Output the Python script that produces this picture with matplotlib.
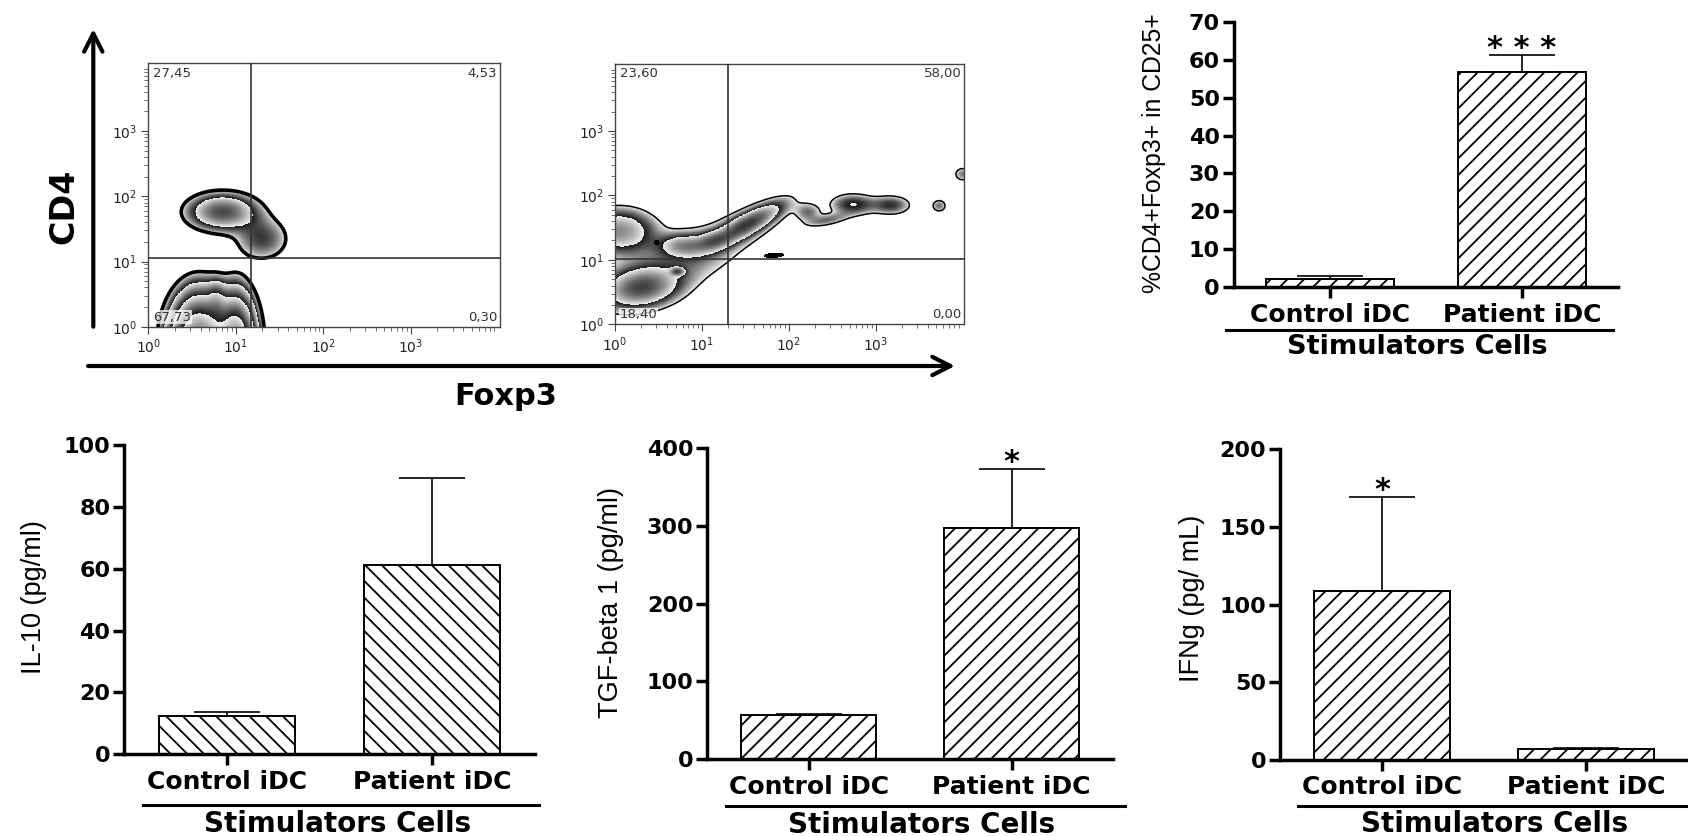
import numpy as np
import matplotlib
matplotlib.use("Agg")
import matplotlib.pyplot as plt
from matplotlib.lines import Line2D
from matplotlib.patches import FancyArrowPatch
from matplotlib.ticker import FixedLocator, LogLocator, NullFormatter

# ---------------- data ----------------
groups = ["Control iDC", "Patient iDC"]
group_title = "Stimulators Cells"

treg_mean = [2.1, 56.8]
treg_sem = [0.8, 4.3]
treg_sig = ["", "* * *"]

il10_mean = [12.5, 61.1]
il10_sem = [1.1, 28.1]
il10_sig = ["", ""]

tgf_mean = [57.0, 296.5]
tgf_sem = [1.5, 76.1]
tgf_sig = ["", "*"]

ifng_mean = [109.0, 7.1]
ifng_sem = [60.1, 0.8]
ifng_sig = ["*", ""]

# flow cytometry: quadrant percentages (UL, UR, LL, LR) and gates
flow1_quadrants = ["27,45", "4,53", "67,73", "0,30"]
flow1_gate = (14.9, 11.2)
flow2_quadrants = ["23,60", "58,00", "18,40", "0,00"]
flow2_gate = (20.0, 10.5)
decade_labels = [r"$10^{0}$", r"$10^{1}$", r"$10^{2}$", r"$10^{3}$"]
decade_ticks = [1, 10, 100, 1000]

# populations
# (log10 Foxp3, log10 CD4, spread x, spread y, angle, relative peak)
flow1_pops = [
    (0.85, 1.76, 0.24, 0.17, 0, 7.0),
    (1.30, 1.35, 0.20, 0.22, 0, 2.5),
    (0.58, -0.30, 0.17, 0.40, 0, 60.0),
    (1.00, -0.30, 0.12, 0.40, 0, 50.0),
    (0.78, 0.35, 0.07, 0.20, 0, 6.0),
]
flow1_dark = []
flow2_pops = [
    (1.52, 1.55, 0.32, 0.10, 38, 7.0),
    (0.80, 1.22, 0.18, 0.11, 0, 4.0),
    (0.30, 0.57, 0.26, 0.18, 15, 6.0),
    (0.05, 1.45, 0.26, 0.22, 0, 5.0),
    (1.12, 1.30, 0.13, 0.09, 20, 3.0),
    (0.75, 0.95, 0.80, 0.32, 35, 1.8),
    (0.72, 0.82, 0.05, 0.04, 0, 5.0),
    (2.74, 1.86, 0.17, 0.11, 0, 3.0),
    (2.22, 1.74, 0.10, 0.10, 0, 1.8),
    (2.45, 1.62, 0.17, 0.06, 15, 1.8),
    (3.18, 1.85, 0.15, 0.10, 0, 2.6),
    (3.73, 1.84, 0.06, 0.07, 0, 1.9),
    (4.00, 2.33, 0.07, 0.08, 0, 1.8),
]
flow2_dark = [
    (1.83, 1.07, 0.10, 0.03, 5, 1.8),
    (0.48, 1.27, 0.025, 0.03, 0, 1.8),
]

# ---------------- figure ----------------
W, H = 1688, 836
fig = plt.figure(figsize=(W / 100, H / 100), dpi=100)
plt.rcParams["hatch.linewidth"] = 1.3
plt.rcParams["hatch.color"] = "black"
plt.rcParams["mathtext.fontset"] = "dejavusans"

BOLD = "DejaVu Sans"
REG = ["Liberation Sans", "DejaVu Sans"]


def px_axes(left, top, right, bottom):
    return fig.add_axes([left / W, 1 - bottom / H, (right - left) / W, (bottom - top) / H])


def fig_line(x0, x1, y, lw=2.2):
    fig.add_artist(Line2D([x0 / W, x1 / W], [1 - y / H, 1 - y / H], color="black", lw=lw,
                          transform=fig.transFigure))


def fig_text(x, y, s, **kw):
    fig.text(x / W, 1 - y / H, s, ha="center", va="center", **kw)


# ---------------- flow panels ----------------
gx = np.linspace(-0.05, 4.1, 700)
gy = np.linspace(-0.05, 4.1, 700)


def density(pops):
    X, Y = np.meshgrid(gx, gy)
    Z = np.zeros_like(X)
    for cx, cy, sx, sy, ang, amp in pops:
        t = np.deg2rad(ang)
        dx, dy = X - cx, Y - cy
        u = dx * np.cos(t) + dy * np.sin(t)
        v = -dx * np.sin(t) + dy * np.cos(t)
        Z += amp * np.exp(-0.5 * ((u / sx) ** 2 + (v / sy) ** 2))
    return Z


def flow_panel(ax, pops, dark, quads, gate, outer_lw):
    Z = density(pops)
    ratio = 3.0
    lv = np.log(np.maximum(Z, 1e-12)) / np.log(ratio)
    frac = lv - np.floor(lv)
    shade = np.ma.masked_where(Z < 1.0, 0.95 - 0.85 * frac)
    XX, YY = 10 ** gx, 10 ** gy
    ax.pcolormesh(XX, YY, shade, cmap="gray", vmin=0, vmax=1, shading="nearest", zorder=1)
    ax.contour(XX, YY, Z, levels=[1.0], colors="black", linewidths=outer_lw, zorder=2)
    if dark:
        Zd = density(dark)
        ax.contourf(XX, YY, Zd, levels=[1.0, 1e9], colors="black", zorder=2)
    ax.set_xscale("log")
    ax.set_yscale("log")
    ax.set_xlim(1, 10 ** 4.02)
    ax.set_ylim(1, 10 ** 4.04)
    for axis in (ax.xaxis, ax.yaxis):
        axis.set_major_locator(FixedLocator(decade_ticks))
        axis.set_minor_locator(LogLocator(base=10, subs=np.arange(2, 10), numticks=20))
        axis.set_minor_formatter(NullFormatter())
    ax.set_xticklabels(decade_labels)
    ax.set_yticklabels(decade_labels)
    ax.tick_params(which="major", direction="out", length=5, width=0.8, colors="#444",
                   labelsize=10, labelcolor="#222", pad=3)
    ax.tick_params(which="minor", direction="out", length=3, width=0.6, colors="#555")
    for sp in ax.spines.values():
        sp.set_linewidth(1.0)
        sp.set_color("#444")
    ax.axvline(gate[0], color="#333", lw=1.2, zorder=3)
    ax.axhline(gate[1], color="#333", lw=1.2, zorder=3)
    kw = dict(transform=ax.transAxes, fontsize=9.5, color="#333", family="DejaVu Sans", zorder=4)
    ax.text(0.013, 0.987, quads[0], ha="left", va="top", **kw)
    ax.text(0.992, 0.987, quads[1], ha="right", va="top", **kw)
    ax.text(0.013, 0.012, quads[2], ha="left", va="bottom",
            bbox=dict(facecolor="white", edgecolor="none", alpha=0.75, pad=0.5), **kw)
    ax.text(0.992, 0.012, quads[3], ha="right", va="bottom", **kw)


ax_f1 = px_axes(148.3, 63.3, 500, 326.7)
flow_panel(ax_f1, flow1_pops, flow1_dark, flow1_quadrants, flow1_gate, 2.6)
ax_f2 = px_axes(615, 64, 964.3, 324.3)
flow_panel(ax_f2, flow2_pops, flow2_dark, flow2_quadrants, flow2_gate, 1.1)

# big axis arrows and labels
arrow_style = "->,head_length=0.65,head_width=0.33"
fig.add_artist(FancyArrowPatch(posA=(93.3 / W, 1 - 326.7 / H), posB=(93.3 / W, 1 - 29 / H),
                               transform=fig.transFigure, arrowstyle=arrow_style,
                               mutation_scale=20, lw=3.0, color="black", shrinkA=0, shrinkB=0))
fig.add_artist(FancyArrowPatch(posA=(88 / W, 1 - 366 / H), posB=(955 / W, 1 - 366 / H),
                               transform=fig.transFigure, arrowstyle=arrow_style,
                               mutation_scale=20, lw=3.0, color="black", shrinkA=0, shrinkB=0))
fig_text(64, 206.7, "CD4", rotation=90, fontsize=24, fontweight="bold", family=BOLD)
fig_text(506, 396.7, "Foxp3", fontsize=22, fontweight="bold", family=BOLD)


# ---------------- bar panels ----------------
def bar_panel(ax, means, sems, sigs, hatch, ymax, ystep):
    x = np.arange(len(groups))
    ax.bar(x, means, width=0.665, color="white", edgecolor="black", linewidth=1.4,
           hatch=hatch, zorder=2)
    ax.errorbar(x, means, yerr=[np.zeros(len(sems)), sems], fmt="none", ecolor="black",
                elinewidth=1.2, capsize=24, capthick=1.2, zorder=3)
    for xi, m, s, sg in zip(x, means, sems, sigs):
        if sg:
            ax.annotate(sg, xy=(xi, m + s), xytext=(0, 5), textcoords="offset points",
                        ha="center", va="center", fontsize=22, fontweight="bold",
                        family=BOLD, zorder=4)
    ax.set_xlim(-0.5, 1.5)
    ax.set_ylim(0, ymax)
    ax.set_yticks(np.arange(0, ymax + 1, ystep))
    ax.set_xticks(x)
    ax.set_xticklabels(groups, fontsize=18, fontweight="bold", family=BOLD)
    for lab in ax.get_yticklabels():
        lab.set_fontweight("bold")
        lab.set_family(BOLD)
        lab.set_fontsize(16)
    for side in ("top", "right"):
        ax.spines[side].set_visible(False)
    for side in ("left", "bottom"):
        ax.spines[side].set_linewidth(2.5)
        ax.spines[side].set_capstyle("projecting")
    ax.tick_params(axis="both", direction="out", length=8, width=2.5, pad=2)
    ax.tick_params(axis="x", pad=3)
    ax.patch.set_visible(False)


ax_t = px_axes(1233.7, 21.7, 1618, 287.3)
bar_panel(ax_t, treg_mean, treg_sem, treg_sig, "//", 70, 10)
fig_text(1154, 153, "%CD4+Foxp3+ in CD25+", rotation=90, fontsize=17.8, family=REG)
fig_line(1225.6, 1612.6, 330)
fig_text(1417, 346.5, group_title, fontsize=19.5, fontweight="bold", family=BOLD)

ax_il = px_axes(124.3, 445, 534.6, 754.3)
bar_panel(ax_il, il10_mean, il10_sem, il10_sig, "\\\\", 100, 20)
fig_text(34, 597, "IL-10 (pg/ml)", rotation=90, fontsize=19.5, family=REG)
fig_line(143, 539, 805)
fig_text(338, 824, group_title, fontsize=20, fontweight="bold", family=BOLD)

ax_tg = px_axes(707.3, 447.7, 1113, 759.3)
bar_panel(ax_tg, tgf_mean, tgf_sem, tgf_sig, "//", 400, 100)
fig_text(611, 603, "TGF-beta 1 (pg/ml)", rotation=90, fontsize=19.5, family=REG)
fig_line(726, 1125, 806)
fig_text(922, 825, group_title, fontsize=20, fontweight="bold", family=BOLD)

ax_if = px_axes(1280, 449.3, 1688, 760)
bar_panel(ax_if, ifng_mean, ifng_sem, ifng_sig, "//", 200, 50)
fig_text(1192, 598, "IFNg (pg/ mL)", rotation=90, fontsize=19.5, family=REG)
fig_line(1298, 1688, 806)
fig_text(1495, 824, group_title, fontsize=20, fontweight="bold", family=BOLD)

fig.savefig("out.png", dpi=100, facecolor="white")
